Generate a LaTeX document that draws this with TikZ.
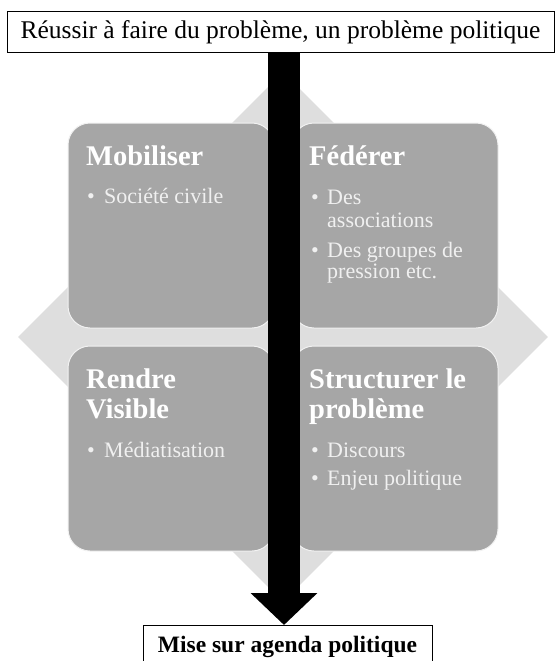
\documentclass[tikz,border=0pt]{standalone}
\usepackage{fontspec}
\setmainfont{Liberation Serif}
\usetikzlibrary{shapes.geometric,arrows.meta}
\definecolor{boxgray}{HTML}{A6A6A6}
\definecolor{diagray}{HTML}{DEDEDE}
\definecolor{bultext}{HTML}{F0F0F0}
\tikzset{
  quad/.style={draw=white!85!boxgray, line width=1pt, fill=boxgray, rounded corners=22pt,
    minimum width=206pt, minimum height=205pt, inner sep=0pt},
  ttl/.style={anchor=base west, inner sep=0pt, text=white, font=\fontsize{28.5}{30}\selectfont\bfseries},
  bul/.style={anchor=base west, inner sep=0pt, text=bultext, font=\fontsize{22}{23}\selectfont},
  frame/.style={draw=black, line width=0.9pt, fill=white, anchor=north, inner xsep=0pt}
}
\begin{document}
\begin{tikzpicture}[x=1pt,y=-1pt]
\path[use as bounding box, clip] (0,0) rectangle (556,661);
\fill[white] (0,0) rectangle (556,661);
% background diamond
\node[diamond, fill=diagray, minimum width=530pt, minimum height=530pt, inner sep=0pt, aspect=1] (dia) at (283,337) {};
% four quadrant boxes
\node[quad] (mob) at (171,225.5) {};
\node[quad] (fed) at (395,225.5) {};
\node[quad] (ren) at (171,448.5) {};
\node[quad] (str) at (395,448.5) {};
% titles
\node[ttl] (tmob) at (86,165) {Mobiliser};
\node[ttl] (tfed) at (309,165) {Fédérer};
\node[ttl] (tren1) at (86,388) {Rendre};
\node[ttl] (tren2) at (86,418) {Visible};
\node[ttl] (tstr1) at (309,388) {Structurer le};
\node[ttl] (tstr2) at (309,418) {problème};
% bullets
\node[bul] (b1) at (87,203) {•};
\node[bul] (t1) at (104,203) {Société civile};
\node[bul] (b2) at (311,204) {•};
\node[bul] (t2) at (327,204) {Des};
\node[bul] (t2b) at (327,227) {associations};
\node[bul] (b3) at (311,257) {•};
\node[bul] (t3) at (327,257) {Des groupes de};
\node[bul] (t3b) at (327,278) {pression etc.};
\node[bul] (b4) at (87,457) {•};
\node[bul] (t4) at (104,457) {Médiatisation};
\node[bul] (b5) at (311,457) {•};
\node[bul] (t5) at (327,457) {Discours};
\node[bul] (b6) at (311,485) {•};
\node[bul] (t6) at (327,485) {Enjeu politique};
% top and bottom frames
\node[frame, minimum width=547pt, inner ysep=6pt, text height=21pt, text depth=8pt,
  font=\fontsize{25.5}{28}\selectfont] (top) at (280.5,11) {Réussir à faire du problème, un problème politique};
\node[frame, minimum width=289pt, inner ysep=10pt, text height=17pt, text depth=6pt,
  font=\fontsize{23.5}{26}\selectfont\bfseries] (bot) at (287.5,625) {Mise sur agenda politique};
% big arrow
\coordinate (ax) at (284,0);
\draw[line width=32pt, -{Triangle[width=65pt, length=32pt]}] (top.south -| ax) -- (bot.north -| ax);
\end{tikzpicture}
\end{document}
